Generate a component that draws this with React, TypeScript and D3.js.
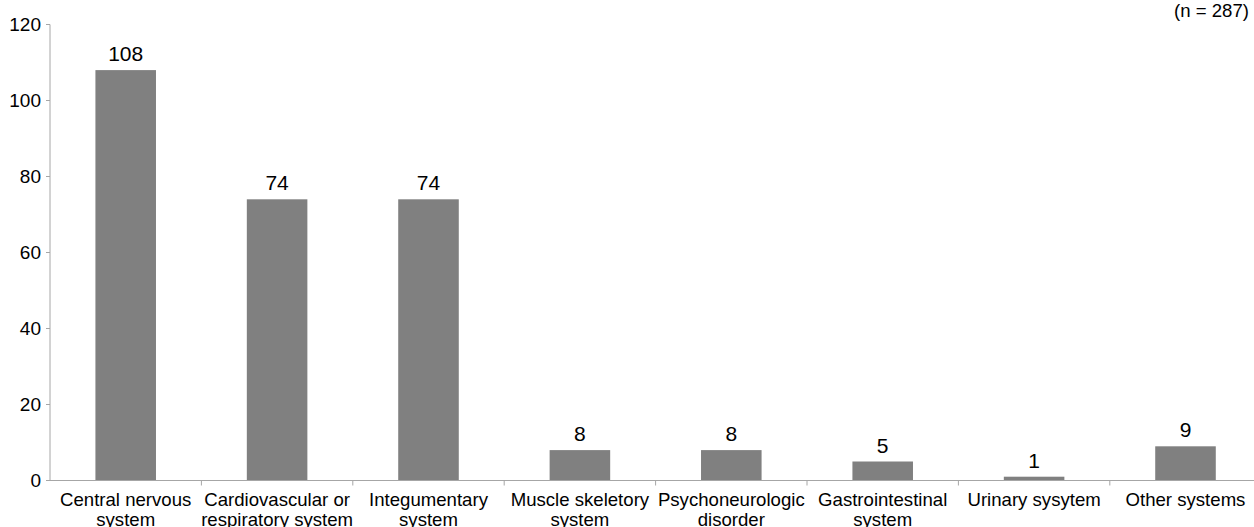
import React from "react";
import * as d3 from "d3";

const categories: string[][] = [
  ["Central nervous", "system"],
  ["Cardiovascular or", "respiratory system"],
  ["Integumentary", "system"],
  ["Muscle skeletory", "system"],
  ["Psychoneurologic", "disorder"],
  ["Gastrointestinal", "system"],
  ["Urinary sysytem"],
  ["Other systems"],
];
const values: number[] = [108, 74, 74, 8, 8, 5, 1, 9];
const yTicks: number[] = [0, 20, 40, 60, 80, 100, 120];
const note = "(n = 287)";

const W = 1254;
const H = 527;
const font = "'Liberation Sans', Arial, Helvetica, sans-serif";

export default function App() {
  const keys = categories.map((c) => c.join(" "));
  const x = d3.scaleBand<string>().domain(keys).range([50, 50 + 8 * 151.4]).padding(0);
  const y = d3.scaleLinear().domain([0, 120]).range([480.5, 24.5]);
  const bw = x.bandwidth();
  const barW = bw * 0.4;

  return (
    <svg
      width={W}
      height={H}
      style={{ position: "absolute", left: 0, top: 0, background: "#fff" }}
      fontFamily={font}
    >
      {/* y axis */}
      <line x1={50} x2={50} y1={y(120)} y2={y(0)} stroke="#a6a6a6" strokeWidth={1} />
      {yTicks.map((t) => (
        <g key={t}>
          <line x1={46} x2={50} y1={y(t)} y2={y(t)} stroke="#a6a6a6" strokeWidth={1} />
          <text x={41} y={y(t)} dy="0.36em" textAnchor="end" fontSize={19} fill="#000">
            {t}
          </text>
        </g>
      ))}
      {/* bars */}
      {values.map((v, i) => {
        const k = keys[i];
        const cx = (x(k) as number) + bw / 2;
        return (
          <g key={k}>
            <rect x={cx - barW / 2} y={y(v)} width={barW} height={y(0) - y(v)} fill="#808080" />
            <text x={cx} y={y(v) - 9} textAnchor="middle" fontSize={21} fill="#000">
              {v}
            </text>
          </g>
        );
      })}
      {/* x axis */}
      <line x1={50} x2={W + 10} y1={y(0)} y2={y(0)} stroke="#a6a6a6" strokeWidth={1} />
      {keys.map((k) => (
        <line
          key={"t" + k}
          x1={(x(k) as number) + bw}
          x2={(x(k) as number) + bw}
          y1={y(0)}
          y2={y(0) + 5}
          stroke="#a6a6a6"
          strokeWidth={1}
        />
      ))}
      {categories.map((lines, i) => {
        const cx = (x(keys[i]) as number) + bw / 2;
        return (
          <text key={"l" + i} x={cx} textAnchor="middle" fontSize={18.6} fill="#000">
            {lines.map((ln, j) => (
              <tspan key={j} x={cx} y={506 + j * 19.5}>
                {ln}
              </tspan>
            ))}
          </text>
        );
      })}
      <text x={1249} y={17} textAnchor="end" fontSize={18.6} fill="#000">
        {note}
      </text>
    </svg>
  );
}
